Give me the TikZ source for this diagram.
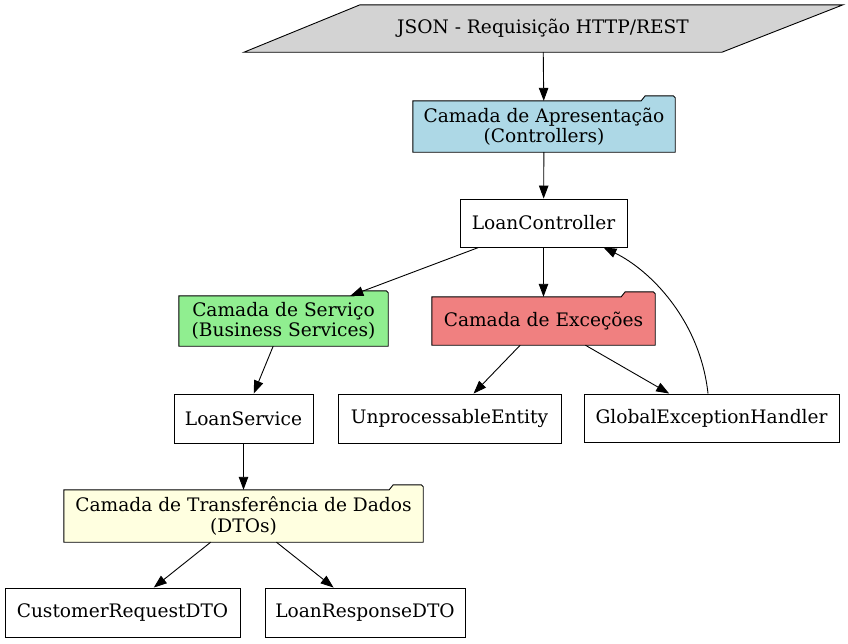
\documentclass[tikz,border=0pt]{standalone}
\usepackage{fontspec}
\setmainfont{DejaVu Serif}
\usetikzlibrary{arrows.meta,backgrounds}
\definecolor{cgray}{HTML}{D3D3D3}
\definecolor{cblue}{HTML}{ADD8E6}
\definecolor{cgreen}{HTML}{90EE90}
\definecolor{ccoral}{HTML}{F08080}
\definecolor{cyellow}{HTML}{FFFFE0}
\tikzset{
  every node/.style={font=\fontsize{18.6}{20.5}\selectfont, align=center, inner sep=0pt},
  box/.style={draw, line width=0.9pt, fill=white},
  edge/.style={line width=0.9pt, -{Triangle[length=13pt,width=9.5pt]}},
  outline/.style={draw, line width=0.9pt},
}
\newcommand{\folderpath}[2]{%
  \path[outline, fill=#2] (#1.south west) -- (#1.north west) -- ([xshift=-34pt]#1.north east)
    -- ([xshift=-30pt,yshift=5pt]#1.north east) -- ([xshift=-2pt,yshift=5pt]#1.north east)
    -- ([yshift=3pt]#1.north east) -- (#1.south east) -- cycle;}
\begin{document}
\begin{tikzpicture}[x=1pt,y=-1pt]
\useasboundingbox (0,0) rectangle (848,643);
\node[minimum width=360pt,minimum height=47pt] (json) at (543,28.5) {JSON - Requisição HTTP/REST};
\node[minimum width=262pt,minimum height=51pt] (apres) at (544,126.5) {Camada de Apresentação\\(Controllers)};
\node[box,minimum width=167pt,minimum height=48pt] (lc) at (543.5,223) {LoanController};
\node[minimum width=209pt,minimum height=50pt] (serv) at (283.5,321) {Camada de Serviço\\(Business Services)};
\node[minimum width=223pt,minimum height=48pt] (exc) at (543.5,321) {Camada de Exceções};
\node[box,minimum width=139pt,minimum height=49pt] (ls) at (243.5,418.5) {LoanService};
\node[box,minimum width=223pt,minimum height=49pt] (ue) at (449.5,418.5) {UnprocessableEntity};
\node[box,minimum width=255pt,minimum height=48pt] (geh) at (711.5,418) {GlobalExceptionHandler};
\node[minimum width=359pt,minimum height=52pt] (dto) at (243.5,516) {Camada de Transferência de Dados\\(DTOs)};
\node[box,minimum width=235pt,minimum height=49pt] (crd) at (122.5,612.5) {CustomerRequestDTO};
\node[box,minimum width=200pt,minimum height=49pt] (lrd) at (365,612.5) {LoanResponseDTO};
\begin{scope}[on background layer]
  \path[outline, fill=cgray] ([xshift=-183pt]json.north) -- ([xshift=300pt]json.north)
     -- ([xshift=179pt]json.south) -- ([xshift=-299pt]json.south) -- cycle;
  \folderpath{apres}{cblue}
  \folderpath{serv}{cgreen}
  \folderpath{exc}{ccoral}
  \folderpath{dto}{cyellow}
\end{scope}
\draw[edge] (json) -- (apres);
\draw[edge] (apres) -- (lc);
\draw[edge] (lc) -- (serv);
\draw[edge] (lc) -- (exc);
\draw[edge] (serv) -- (ls);
\draw[edge] (exc) -- (ue);
\draw[edge] (exc) -- (geh);
\draw[edge] (ls) -- (dto);
\draw[edge] (dto) -- (crd);
\draw[edge] (dto) -- (lrd);
\draw[edge] ([xshift=-3.5pt]geh.north) .. controls (700,320) and (650,270) .. ([xshift=60pt]lc.south);
\end{tikzpicture}
\end{document}
